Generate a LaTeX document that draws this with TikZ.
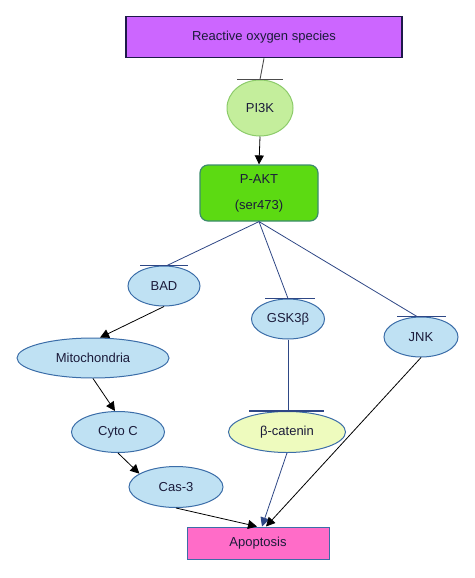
\documentclass[tikz,border=0pt]{standalone}
\usepackage{fontspec}
\setmainfont{Liberation Sans}
\usepackage{tikz}
\usetikzlibrary{shapes.geometric, arrows.meta, positioning, calc}
\definecolor{rosfill}{HTML}{CC66FF}
\definecolor{rosdraw}{HTML}{1E1A4A}
\definecolor{pifill}{HTML}{C4EE9C}
\definecolor{pidraw}{HTML}{8CCB6A}
\definecolor{aktfill}{HTML}{5CDA12}
\definecolor{aktdraw}{HTML}{3C8C6C}
\definecolor{bluefill}{HTML}{BFE1F3}
\definecolor{bluedraw}{HTML}{3B6DA8}
\definecolor{catfill}{HTML}{EEFBBE}
\definecolor{apofill}{HTML}{FF6CC8}
\definecolor{navyline}{HTML}{2E4785}
\definecolor{txt}{HTML}{1B1B3A}
\tikzset{rosbox/.style={rectangle,draw=rosdraw,line width=1.6pt,fill=rosfill,minimum width=276pt,minimum height=41pt},
         kinase/.style={ellipse,draw=pidraw,line width=1pt,fill=pifill,minimum width=66pt,minimum height=56pt,inner sep=0pt},
         aktbox/.style={rectangle,draw=aktdraw,line width=1.2pt,fill=aktfill,rounded corners=8pt,align=center,minimum width=118pt,minimum height=56pt},
         target/.style={ellipse,draw=bluedraw,line width=1pt,fill=bluefill,minimum height=40pt,inner sep=0pt},
         catnode/.style={ellipse,draw=bluedraw,line width=1pt,fill=catfill,minimum width=117pt,minimum height=41pt,inner sep=0pt},
         apobox/.style={rectangle,draw=bluedraw,line width=1pt,fill=apofill,minimum width=142pt,minimum height=32pt},
         inhibit/.style={navyline,line width=0.8pt},
         tbar/.style={navyline,line width=1.2pt},
         arrow/.style={-{Triangle[length=9pt,width=9pt]},line width=0.8pt}}

\begin{document}
\begin{tikzpicture}[x=1pt,y=-1pt,font=\fontsize{13}{15}\selectfont\color{txt}]
    \useasboundingbox (0,0) rectangle (474,578);
    % Upstream signal
    \node (ros) [rosbox] at (264,37) {Reactive oxygen species};
    \node (pi3k) [kinase] at (260,108) {PI3K};
    \node (pakt) [aktbox] at (259,193) {P-AKT\\[11pt](ser473)};
    % Downstream targets
    \node (bad) [target, minimum width=72pt] at (164,286) {BAD};
    \node (gsk) [target, minimum width=73pt] at (288,319) {GSK3β};
    \node (jnk) [target, minimum width=74pt] at (421,337) {JNK};
    \node (mito) [target, minimum width=152pt] at (93,358) {Mitochondria};
    \node (cyto) [target, minimum width=93pt, minimum height=41pt] at (118,432) {Cyto C};
    \node (cas) [target, minimum width=94pt, minimum height=41pt] at (176,487) {Cas-3};
    \node (cat) [catnode] at (287,432) {β-catenin};
    \node (apo) [apobox] at (258,543) {Apoptosis};
    % Inhibitions
    \draw[gray!60!black, line width=0.9pt] (ros.south) -- (pi3k.north);
    \draw[gray!60!black, line width=1pt] ([xshift=-23pt]pi3k.north) -- ([xshift=23pt]pi3k.north);
    \draw[inhibit] (pakt.south) -- ([xshift=3pt]bad.north);
    \draw[tbar] ([xshift=-24pt]bad.north) -- ([xshift=24pt]bad.north);
    \draw[inhibit] (pakt.south) -- (gsk.north);
    \draw[tbar] ([xshift=-23pt]gsk.north) -- ([xshift=27pt]gsk.north);
    \draw[inhibit] (pakt.south) -- ([xshift=-4pt]jnk.north);
    \draw[tbar] ([xshift=-24pt]jnk.north) -- ([xshift=25pt]jnk.north);
    \draw[inhibit] (gsk.south) -- ([xshift=1pt]cat.north);
    \draw[tbar] ([xshift=-38pt]cat.north) -- ([xshift=37pt]cat.north);
    % Activations
    \draw[arrow] (pi3k.south) -- (pakt.north);
    \draw[arrow] (bad.south) -- (mito.71);
    \draw[arrow] (mito.south) -- ([xshift=-3pt]cyto.north);
    \draw[arrow] (cyto.south) -- (cas.160);
    \draw[arrow] (cas.south) -- ([xshift=-1pt]apo.north);
    \draw[arrow, navyline] (cat.south) -- ([xshift=4pt]apo.north);
    \draw[arrow] (jnk.south) -- ([xshift=8pt]apo.north);
\end{tikzpicture}
\end{document}
